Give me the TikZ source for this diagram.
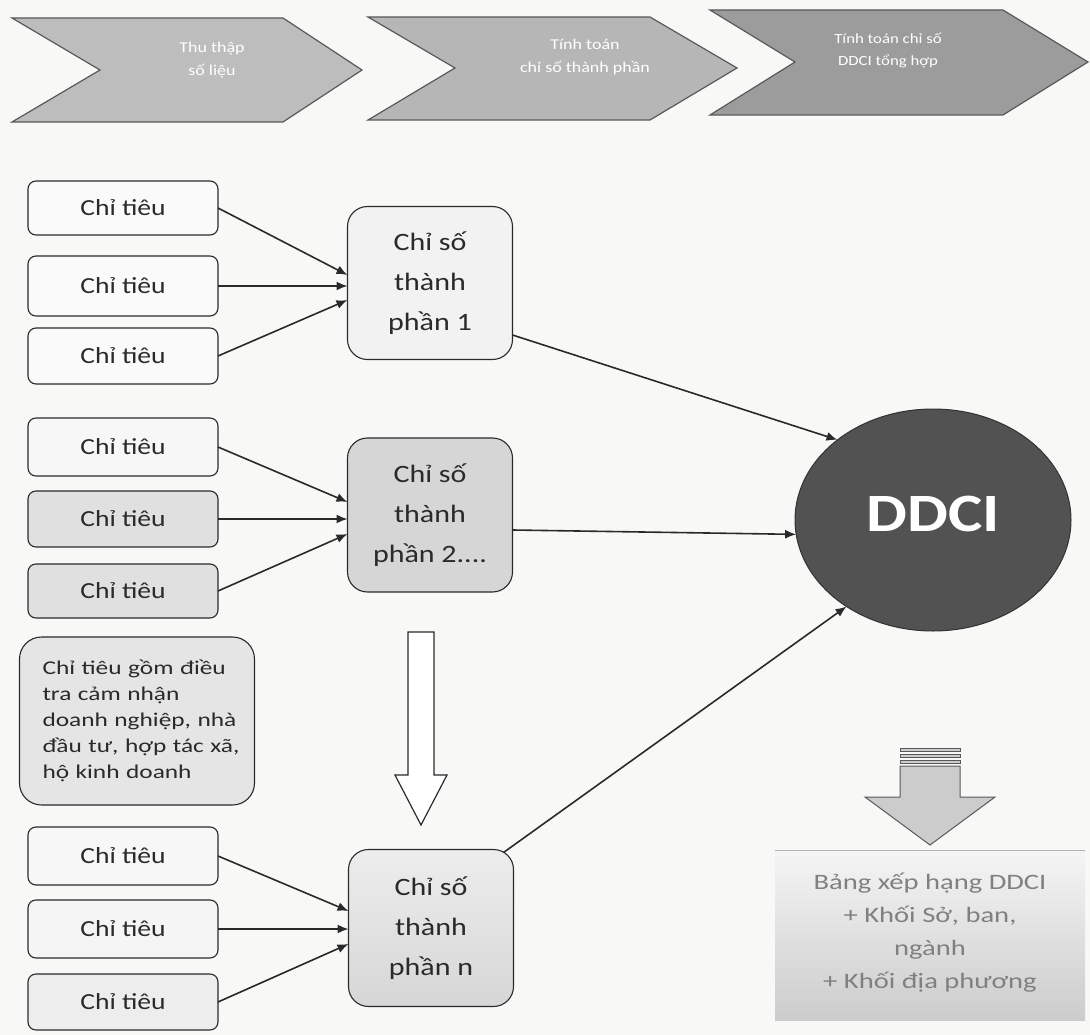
\documentclass[tikz,border=0pt]{standalone}
\usepackage{fontspec}
\setmainfont{Carlito}[FakeStretch=1.2]
\newfontfamily\notefont{Carlito}[FakeStretch=1.3]
\usetikzlibrary{arrows.meta,calc,shapes.geometric}
\definecolor{bg}{HTML}{F8F8F6}
\definecolor{chevA}{HTML}{BDBDBD}
\definecolor{chevB}{HTML}{B6B6B6}
\definecolor{chevC}{HTML}{9C9C9C}
\definecolor{ddcifill}{HTML}{525252}
\definecolor{ink}{HTML}{2A2A2A}
\begin{document}
\begin{tikzpicture}[x=1pt,y=-1pt,
  every node/.style={inner sep=0pt,outer sep=0pt},
  ctbox/.style={draw=ink,line width=1.1pt,rounded corners=8pt,minimum width=190pt,
    font=\fontsize{23}{28}\selectfont,text=ink},
  csbox/.style={draw=ink,line width=1.1pt,rounded corners=20pt,minimum width=165pt,
    align=center,font=\fontsize{25}{40}\selectfont,text=ink},
  conn/.style={line width=1.6pt,draw=ink,-{Latex[length=11pt,width=9pt]}},
  chev/.style={draw=black!65,line width=1.2pt},
  chevtext/.style={text=white,align=center,font=\fontsize{15}{23}\selectfont}]

\fill[bg] (0,0) rectangle (1090,1035);
\useasboundingbox (0,0) rectangle (1090,1035);

% chevrons
\filldraw[chev,fill=chevA] (12,18) -- (283,18) -- (362,70) -- (283,122) -- (12,122) -- (100,70) -- cycle;
\filldraw[chev,fill=chevB] (368,17) -- (650,17) -- (737,68) -- (650,120) -- (368,120) -- (455,68) -- cycle;
\filldraw[chev,fill=chevC] (710,10) -- (1003,10) -- (1088,62) -- (1003,115) -- (710,115) -- (795,62) -- cycle;
\node[chevtext] (t1) at (212,60) {Thu thập\\số liệu};
\node[chevtext] (t2) at (585,57) {Tính toán\\chỉ số thành phần};
\node[chevtext,font=\fontsize{14}{22}\selectfont] (t3) at (888,50) {Tính toán chỉ số\\DDCI tổng hợp};

% Chi tieu boxes
\node[ctbox,fill=white!98!black,minimum height=54pt] (b1) at (123,208) {Chỉ tiêu};
\node[ctbox,fill=white!98!black,minimum height=60pt] (b2) at (123,286) {Chỉ tiêu};
\node[ctbox,fill=white!98!black,minimum height=56pt] (b3) at (123,356) {Chỉ tiêu};
\node[ctbox,fill=white!97!black,minimum height=58pt] (b4) at (123,447) {Chỉ tiêu};
\node[ctbox,fill=white!88!black,minimum height=56pt] (b5) at (123,519) {Chỉ tiêu};
\node[ctbox,fill=white!88!black,minimum height=54pt] (b6) at (123,591) {Chỉ tiêu};
\node[ctbox,fill=white!97!black,minimum height=58pt] (b7) at (123,856) {Chỉ tiêu};
\node[ctbox,fill=white!96!black,minimum height=58pt] (b8) at (123,929) {Chỉ tiêu};
\node[ctbox,fill=white!93!black,minimum height=56pt] (b9) at (123,1002) {Chỉ tiêu};

% note box
\node[draw=ink,line width=1.1pt,rounded corners=22pt,fill=white!90!black,
  minimum width=235pt,minimum height=168pt,text width=205pt,inner xsep=15pt,align=left,
  font=\notefont\fontsize{19.5}{26}\selectfont,text=ink] (note) at (137,721)
  {\hspace*{8pt}Chỉ tiêu gồm điều\\\hspace*{8pt}tra cảm nhận\\\hspace*{8pt}doanh nghiệp, nhà\\\hspace*{8pt}đầu tư, hợp tác xã,\\\hspace*{8pt}hộ kinh doanh};

% component index boxes
\node[csbox,fill=white!95!black,minimum height=153pt] (cs1) at (430,283) {Chỉ số\\thành\\phần 1};
\node[csbox,fill=white!84!black,minimum height=154pt] (cs2) at (430,515) {Chỉ số\\thành\\phần 2....};
\node[csbox,top color=white!93!black,bottom color=white!84!black,minimum height=157pt] (csn) at (431,928) {Chỉ số\\thành\\phần n};

% connectors into component boxes
\draw[conn] (b1.east) -- ($(cs1.west |- b2.east)+(0,-11)$);
\draw[conn] (b2.east) -- (b2.east -| cs1.west);
\draw[conn] (b3.east) -- ($(cs1.west |- b2.east)+(0,14)$);
\draw[conn] (b4.east) -- ($(cs2.west |- b5.east)+(0,-17)$);
\draw[conn] (b5.east) -- (b5.east -| cs2.west);
\draw[conn] (b6.east) -- ($(cs2.west |- b5.east)+(0,15)$);
\draw[conn] (b7.east) -- ($(csn.west |- b8.east)+(0,-18)$);
\draw[conn] (b8.east) -- (b8.east -| csn.west);
\draw[conn] (b9.east) -- ($(csn.west |- b8.east)+(0,15)$);

% hollow arrow
\draw[line width=1.2pt,draw=ink,fill=white] (408,632) -- (434,632) -- (434,775) -- (447,775)
  -- (421,825) -- (395,775) -- (408,775) -- cycle;

% DDCI
\node[ellipse,draw=black!80,line width=1pt,fill=ddcifill,minimum width=276pt,minimum height=222pt] (ddci) at (933,520) {};
\node[text=white,font=\fontsize{54}{54}\bfseries\selectfont] (ddcit) at (933,514) {DDCI};

\draw[conn] ($(cs1.east)+(0,52)$) -- (ddci.140);
\draw[conn] ($(cs2.east)+(0,15)$) -- (ddci.186);
\draw[conn] ($(csn.north east)+(-10,3)$) -- (ddci.225);

% big arrow
\filldraw[draw=black!65,line width=1pt,fill=white!80!black] (900,766) -- (960,766) -- (960,797) -- (995,797)
  -- (930,845) -- (865,797) -- (900,797) -- cycle;
\filldraw[draw=black!65,line width=0.8pt,fill=white!80!black] (900,748) rectangle (960,751);
\filldraw[draw=black!65,line width=0.8pt,fill=white!80!black] (900,754) rectangle (960,757);
\filldraw[draw=black!65,line width=0.8pt,fill=white!80!black] (900,760) rectangle (960,763);

% result box
\node[top color=white!96!black,bottom color=white!80!black,minimum width=310pt,minimum height=170pt] (res) at (930,935) {};
\draw[black!30,line width=1pt] (res.north west) -- (res.north east);
\node[align=center,text=black!50,font=\notefont\fontsize{22}{33}\selectfont] (rest) at (930,933)
  {Bảng xếp hạng DDCI\\+ Khối Sở, ban,\\ngành\\+ Khối địa phương};
\end{tikzpicture}
\end{document}
